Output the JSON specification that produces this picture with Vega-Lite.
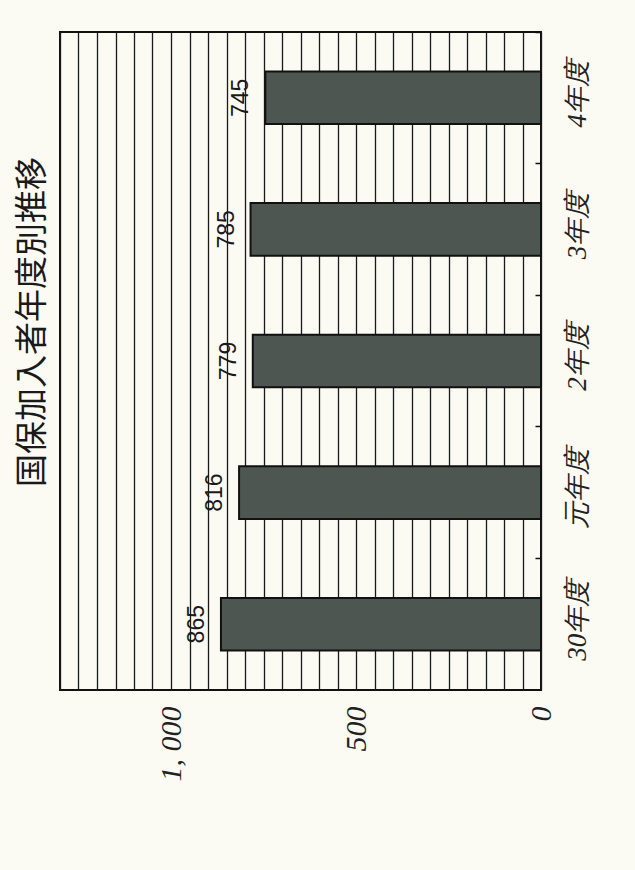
{
  "$schema": "https://vega.github.io/schema/vega-lite/v6.json",
  "autosize": "none",
  "width": 481,
  "height": 658,
  "padding": {"left": 60, "top": 32, "right": 94, "bottom": 180},
  "background": "#fbfbf4",
  "title": {
    "text": "国保加入者年度別推移",
    "orient": "left",
    "anchor": "middle",
    "offset": -5,
    "dx": 39,
    "font": "Noto Sans CJK JP",
    "fontSize": 33,
    "fontWeight": "normal",
    "color": "#1a1a1a"
  },
  "data": {
    "values": [
      {"year": "30年度", "value": 865},
      {"year": "元年度", "value": 816},
      {"year": "2年度", "value": 779},
      {"year": "3年度", "value": 785},
      {"year": "4年度", "value": 745}
    ]
  },
  "encoding": {
    "y": {
      "field": "year",
      "type": "nominal",
      "sort": ["4年度", "3年度", "2年度", "元年度", "30年度"],
      "scale": {"paddingInner": 0, "paddingOuter": 0},
      "axis": {
        "orient": "right",
        "title": null,
        "domain": false,
        "grid": false,
        "bandPosition": 0,
        "tickSize": -6,
        "tickColor": "#111111",
        "tickWidth": 1.5,
        "labelAngle": 270,
        "labelAlign": "center",
        "labelBaseline": "top",
        "labelPadding": 29,
        "labelOffset": -4,
        "labelFont": "Liberation Serif",
        "labelFontStyle": "italic",
        "labelFontSize": 27,
        "labelColor": "#222222"
      }
    },
    "x": {
      "field": "value",
      "type": "quantitative",
      "scale": {"domain": [0, 1300], "reverse": true, "nice": false},
      "axis": {
        "orient": "bottom",
        "title": null,
        "values": [0, 50, 100, 150, 200, 250, 300, 350, 400, 450, 500, 550, 600, 650, 700, 750, 800, 850, 900, 950, 1000, 1050, 1100, 1150, 1200, 1250, 1300],
        "grid": true,
        "gridColor": "#1a1a1a",
        "gridWidth": 1.3,
        "ticks": false,
        "domain": false,
        "labelOverlap": false,
        "labelFlush": false,
        "labelExpr": "datum.value == 1000 ? '1, 000' : (datum.value % 500 == 0 && datum.value < 1300 ? datum.label : '')",
        "labelAngle": 270,
        "labelAlign": "right",
        "labelBaseline": "middle",
        "labelPadding": 16,
        "labelFont": "Liberation Serif",
        "labelFontStyle": "italic",
        "labelFontSize": 30,
        "labelColor": "#222222"
      }
    }
  },
  "layer": [
    {
      "mark": {"type": "bar", "height": {"band": 0.4}, "fill": "#4e5651", "stroke": "#111111", "strokeWidth": 2}
    },
    {
      "mark": {"type": "text", "angle": 270, "align": "center", "baseline": "middle", "dy": -24, "font": "Liberation Sans", "fontSize": 23, "color": "#1a1a1a"},
      "encoding": {"text": {"field": "value", "type": "quantitative"}}
    }
  ],
  "config": {"view": {"stroke": "#111111", "strokeWidth": 2}}
}
